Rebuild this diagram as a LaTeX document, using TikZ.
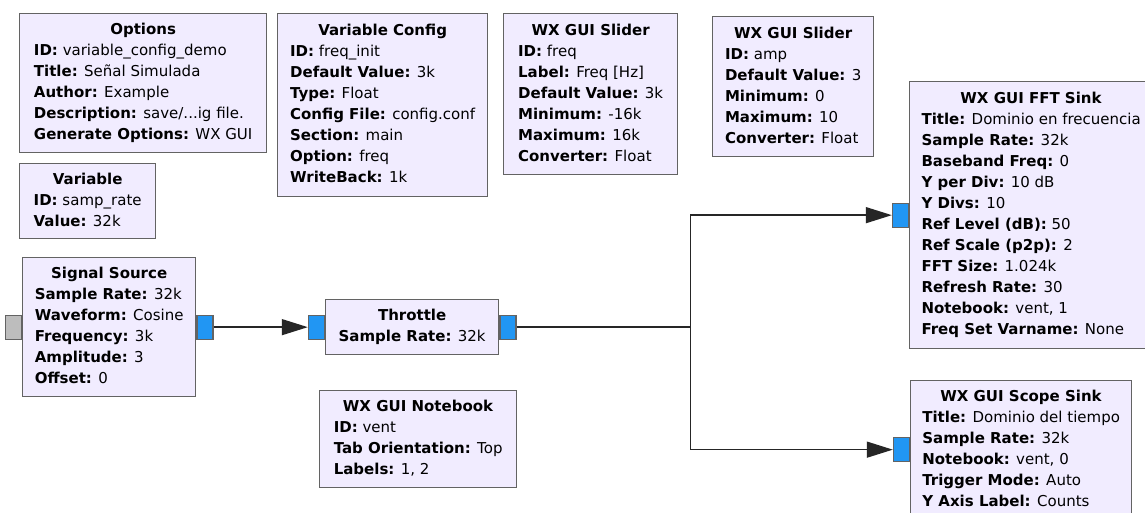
\documentclass[tikz,border=0pt]{standalone}
\usepackage{fontspec}
\setmainfont{DejaVu Sans}
\usetikzlibrary{arrows.meta}
\definecolor{blkfill}{HTML}{F1ECFF}
\definecolor{blkline}{HTML}{636363}
\definecolor{portblue}{HTML}{2196F3}
\definecolor{portgray}{HTML}{BDBDBD}
% block text: bold title, then one parameter per row
\newcommand{\blk}[2]{\begin{tabular}{@{}l@{}}\multicolumn{1}{@{}c@{}}{\textbf{#1}}\\#2\end{tabular}}
\newcommand{\prm}[2]{\textbf{#1:} #2}
\tikzset{
  block/.style={draw=blkline, fill=blkfill, line width=1.3pt, anchor=north west,
    inner sep=0pt, font=\fontsize{15}{21}\selectfont},
  port/.style={draw=blkline, fill=portblue, line width=1.2pt,
    minimum width=16pt, minimum height=24pt, inner sep=0pt},
  flow/.style={draw=black!85, line width=1.4pt, -{Triangle[length=26pt,width=16pt]}},
}
\begin{document}
\begin{tikzpicture}[x=1pt,y=-1pt]
    \clip (0,0) rectangle (1145,512);
    \fill[white] (0,0) rectangle (1145,512);
    \node[block, minimum width=247pt, minimum height=139pt] (opt) at (19,13)
      {\blk{Options}{\prm{ID}{variable\_config\_demo}\\ \prm{Title}{Señal Simulada}\\
       \prm{Author}{Example}\\ \prm{Description}{save/...ig file.}\\ \prm{Generate Options}{WX GUI}}};
    \node[block, minimum width=136pt, minimum height=75pt] (var) at (19,163)
      {\blk{Variable}{\prm{ID}{samp\_rate}\\ \prm{Value}{32k}}};
    \node[block, minimum width=210pt, minimum height=183pt] (varcfg) at (277,13)
      {\blk{Variable Config}{\prm{ID}{freq\_init}\\ \prm{Default Value}{3k}\\ \prm{Type}{Float}\\
       \prm{Config File}{config.conf}\\ \prm{Section}{main}\\ \prm{Option}{freq}\\ \prm{WriteBack}{1k}}};
    \node[block, minimum width=174pt, minimum height=161pt] (sldfreq) at (503,13)
      {\blk{WX GUI Slider}{\prm{ID}{freq}\\ \prm{Label}{Freq [Hz]}\\ \prm{Default Value}{3k}\\
       \prm{Minimum}{-16k}\\ \prm{Maximum}{16k}\\ \prm{Converter}{Float}}};
    \node[block, minimum width=161pt, minimum height=140pt] (sldamp) at (712,16)
      {\blk{WX GUI Slider}{\prm{ID}{amp}\\ \prm{Default Value}{3}\\ \prm{Minimum}{0}\\
       \prm{Maximum}{10}\\ \prm{Converter}{Float}}};
    \node[block, minimum width=243pt, minimum height=267pt] (fft) at (909,81)
      {\blk{WX GUI FFT Sink}{\prm{Title}{Dominio en frecuencia}\\ \prm{Sample Rate}{32k}\\
       \prm{Baseband Freq}{0}\\ \prm{Y per Div}{10 dB}\\ \prm{Y Divs}{10}\\ \prm{Ref Level (dB)}{50}\\
       \prm{Ref Scale (p2p)}{2}\\ \prm{FFT Size}{1.024k}\\ \prm{Refresh Rate}{30}\\
       \prm{Notebook}{vent, 1}\\ \prm{Freq Set Varname}{None}}};
    \node[block, minimum width=173pt, minimum height=139pt] (src) at (22,257)
      {\blk{Signal Source}{\prm{Sample Rate}{32k}\\ \prm{Waveform}{Cosine}\\ \prm{Frequency}{3k}\\
       \prm{Amplitude}{3}\\ \prm{Offset}{0}}};
    \node[block, minimum width=173pt, minimum height=55pt] (thr) at (325,299)
      {\blk{Throttle}{\prm{Sample Rate}{32k}}};
    \node[block, minimum width=197pt, minimum height=97pt] (nb) at (319,390)
      {\blk{WX GUI Notebook}{\prm{ID}{vent}\\ \prm{Tab Orientation}{Top}\\ \prm{Labels}{1, 2}}};
    \node[block, minimum width=221pt, minimum height=138pt] (scope) at (910,380)
      {\blk{WX GUI Scope Sink}{\prm{Title}{Dominio del tiempo}\\ \prm{Sample Rate}{32k}\\
       \prm{Notebook}{vent, 0}\\ \prm{Trigger Mode}{Auto}\\ \prm{Y Axis Label}{Counts}}};
    % ports
    \node[port, fill=portgray, anchor=east] (srcin) at (src.west) {};
    \node[port, anchor=west] (srcout) at (src.east) {};
    \node[port, anchor=east] (thrin) at (thr.west) {};
    \node[port, anchor=west] (throut) at (thr.east) {};
    \node[port, anchor=east] (fftin) at (fft.west) {};
    \node[port, anchor=east] (scopein) at (scope.west) {};
    % connections
    \path (throut.east) ++(174,0) coordinate (split);
    \draw[flow] (srcout) -- (thrin);
    \draw[flow] (throut) -- (split) |- (fftin);
    \draw[flow] (split) |- (scopein);
\end{tikzpicture}
\end{document}
